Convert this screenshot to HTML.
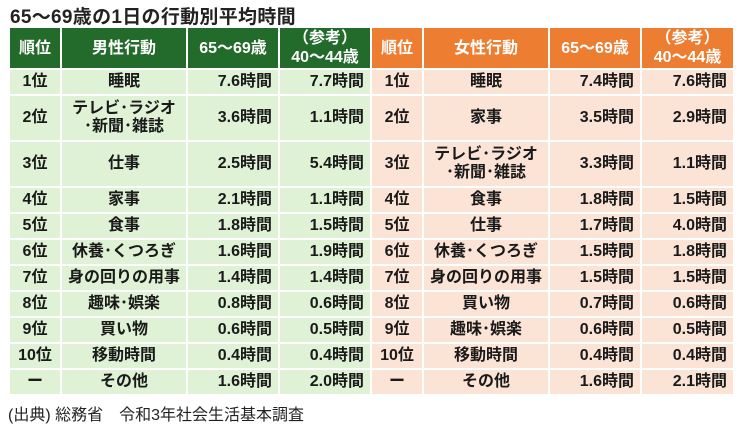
<!DOCTYPE html>
<html><head><meta charset="utf-8"><style>
body{margin:0;width:742px;height:430px;background:#fff;font-family:"Liberation Sans","Noto Sans CJK JP",sans-serif;position:relative;overflow:hidden}
.t{position:absolute;left:10px;top:2px;font-size:19px;font-weight:bold;color:#222;letter-spacing:0.3px}
table{position:absolute;left:8px;top:26px;border-collapse:collapse;table-layout:fixed;font-weight:bold;font-size:16px;color:#1a1a1a}
td,th{border:2px solid #fff;padding:0 6px;white-space:nowrap;line-height:18px}
th{height:40px;color:#fff;font-size:16px;text-align:center;line-height:19px}
th.g{background:#236b2b}th.o{background:#ed7d31}
td.g{background:#dff2d5}td.o{background:#fbe3d6}
tr.s td{height:24px}tr.l td{height:44px}
.c{text-align:center}.r{text-align:right}
.src{position:absolute;left:8px;top:401px;font-size:16px;color:#222}
</style></head><body>
<div class="t">65～69歳の1日の行動別平均時間</div>
<table>
<colgroup><col style="width:52px"><col style="width:125px"><col style="width:92px"><col style="width:92px"><col style="width:52px"><col style="width:124px"><col style="width:92px"><col style="width:93px"></colgroup>
<tr><th class="g">順位</th><th class="g">男性行動</th><th class="g">65～69歳</th><th class="g">（参考）<br>40～44歳</th><th class="o">順位</th><th class="o">女性行動</th><th class="o">65～69歳</th><th class="o">（参考）<br>40～44歳</th></tr>
<tr class="s"><td class="g c">1位</td><td class="g c">睡眠</td><td class="g r">7.6時間</td><td class="g r">7.7時間</td><td class="o c">1位</td><td class="o c">睡眠</td><td class="o r">7.4時間</td><td class="o r">7.6時間</td></tr>
<tr class="l"><td class="g c">2位</td><td class="g c">テレビ･ラジオ<br>･新聞･雑誌</td><td class="g r">3.6時間</td><td class="g r">1.1時間</td><td class="o c">2位</td><td class="o c">家事</td><td class="o r">3.5時間</td><td class="o r">2.9時間</td></tr>
<tr class="l"><td class="g c">3位</td><td class="g c">仕事</td><td class="g r">2.5時間</td><td class="g r">5.4時間</td><td class="o c">3位</td><td class="o c">テレビ･ラジオ<br>･新聞･雑誌</td><td class="o r">3.3時間</td><td class="o r">1.1時間</td></tr>
<tr class="s"><td class="g c">4位</td><td class="g c">家事</td><td class="g r">2.1時間</td><td class="g r">1.1時間</td><td class="o c">4位</td><td class="o c">食事</td><td class="o r">1.8時間</td><td class="o r">1.5時間</td></tr>
<tr class="s"><td class="g c">5位</td><td class="g c">食事</td><td class="g r">1.8時間</td><td class="g r">1.5時間</td><td class="o c">5位</td><td class="o c">仕事</td><td class="o r">1.7時間</td><td class="o r">4.0時間</td></tr>
<tr class="s"><td class="g c">6位</td><td class="g c">休養･くつろぎ</td><td class="g r">1.6時間</td><td class="g r">1.9時間</td><td class="o c">6位</td><td class="o c">休養･くつろぎ</td><td class="o r">1.5時間</td><td class="o r">1.8時間</td></tr>
<tr class="s"><td class="g c">7位</td><td class="g c">身の回りの用事</td><td class="g r">1.4時間</td><td class="g r">1.4時間</td><td class="o c">7位</td><td class="o c">身の回りの用事</td><td class="o r">1.5時間</td><td class="o r">1.5時間</td></tr>
<tr class="s"><td class="g c">8位</td><td class="g c">趣味･娯楽</td><td class="g r">0.8時間</td><td class="g r">0.6時間</td><td class="o c">8位</td><td class="o c">買い物</td><td class="o r">0.7時間</td><td class="o r">0.6時間</td></tr>
<tr class="s"><td class="g c">9位</td><td class="g c">買い物</td><td class="g r">0.6時間</td><td class="g r">0.5時間</td><td class="o c">9位</td><td class="o c">趣味･娯楽</td><td class="o r">0.6時間</td><td class="o r">0.5時間</td></tr>
<tr class="s"><td class="g c">10位</td><td class="g c">移動時間</td><td class="g r">0.4時間</td><td class="g r">0.4時間</td><td class="o c">10位</td><td class="o c">移動時間</td><td class="o r">0.4時間</td><td class="o r">0.4時間</td></tr>
<tr class="s"><td class="g c">ー</td><td class="g c">その他</td><td class="g r">1.6時間</td><td class="g r">2.0時間</td><td class="o c">ー</td><td class="o c">その他</td><td class="o r">1.6時間</td><td class="o r">2.1時間</td></tr>
</table>
<div class="src">(出典) 総務省　令和3年社会生活基本調査</div>
</body></html>
